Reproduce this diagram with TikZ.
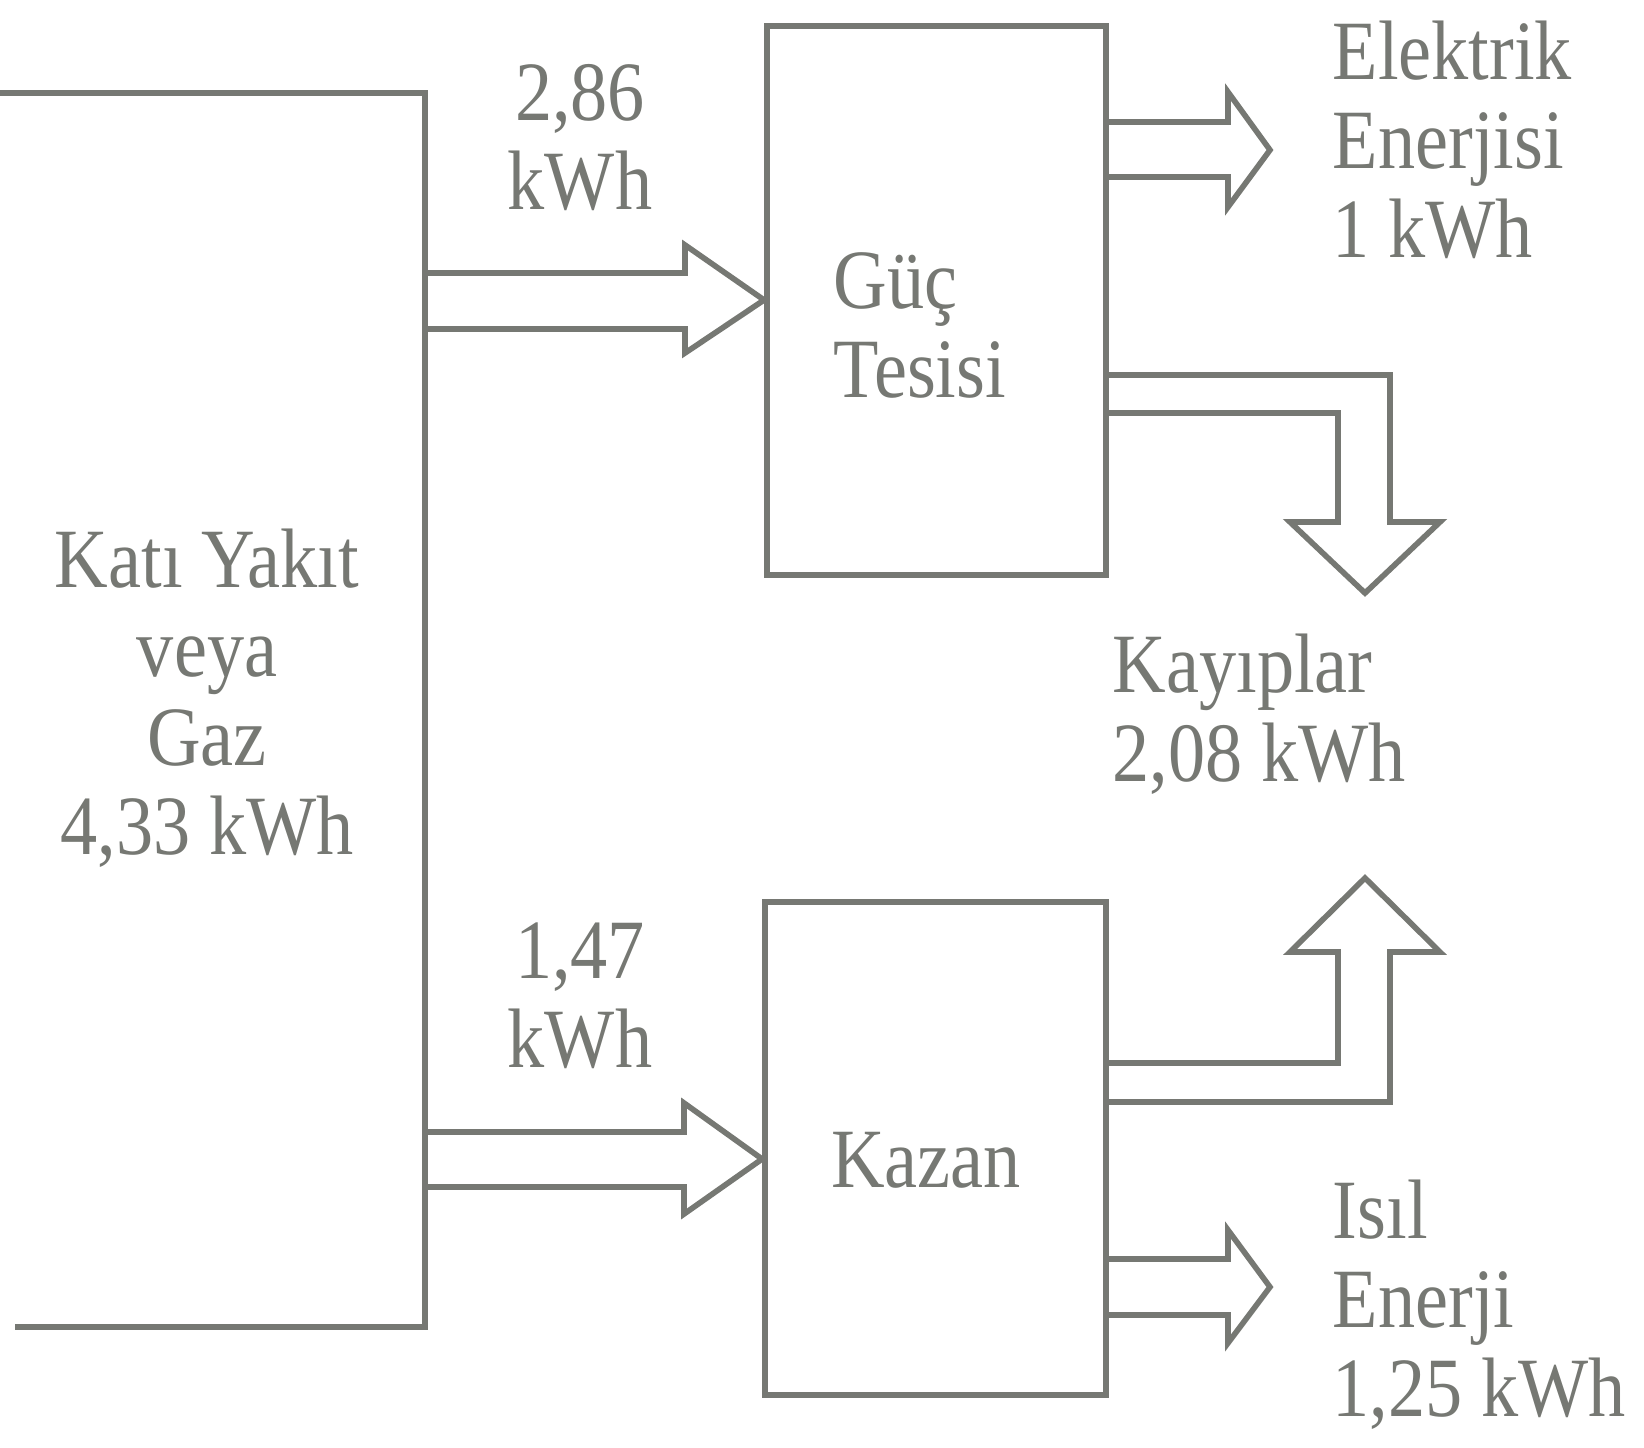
\documentclass[tikz,border=0pt]{standalone}
\usepackage{fontspec}
\setmainfont{Liberation Serif}[FakeStretch=0.88]
\usepackage{tikz}
\usetikzlibrary{positioning}
\definecolor{ink}{RGB}{118,120,115}

\begin{document}
\begin{tikzpicture}[x=0.01cm, y=-0.01cm, line width=1.6pt, draw=ink, line join=miter,
    box/.style={draw=ink, rectangle, inner sep=0pt},
    lbl/.style={text=ink, inner sep=0pt, font=\fontsize{24pt}{25.3pt}\selectfont}]
    \useasboundingbox (0,0) rectangle (1644,1447);

    % Left box (cut at the page edge)
    \draw (0,93) -- (425,93) -- (425,1327) -- (15,1327);
    \node[lbl, align=center] (src) at (207,698) {Katı Yakıt\\veya\\Gaz\\4,33 kWh};

    % Plant and boiler
    \node[box, minimum width=3.39cm, minimum height=5.49cm] (guc) at (936.5,300.5) {};
    \node[box, minimum width=3.41cm, minimum height=4.93cm] (kazan) at (935.5,1148.5) {};
    \node[lbl, align=left, anchor=west] (guclbl) at (831,325) {Güç\\Tesisi};
    \node[lbl] (kazanlbl) at (926,1160) {Kazan};

    % Inflow arrows
    \draw (425,273) -- (685,273) -- (685,245) -- (guc.west |- 0,300) -- (685,353) -- (685,329) -- (425,329);
    \draw (425,1132) -- (684,1132) -- (684,1103) -- (kazan.west |- 0,1159) -- (684,1214) -- (684,1187) -- (425,1187);
    \node[lbl, align=center] (in1) at (580,138) {2,86\\kWh};
    \node[lbl, align=center] (in2) at (580,996) {1,47\\kWh};

    % Outflow arrows
    \draw (guc.east |- 0,122) -- (1228,122) -- (1228,92) -- (1270,150) -- (1228,207) -- (1228,177) -- (guc.east |- 0,177);
    \draw (kazan.east |- 0,1259) -- (1228,1259) -- (1228,1230) -- (1270,1287) -- (1228,1343) -- (1228,1315) -- (kazan.east |- 0,1315);
    \node[lbl, align=left, anchor=west] (elk) at (1330,140) {Elektrik\\Enerjisi\\1 kWh};
    \node[lbl, align=left, anchor=west] (isil) at (1330,1305) {Isıl\\Enerji\\1,25 kWh};

    % Losses
    \draw (guc.east |- 0,375) -- (1390,375) -- (1390,522) -- (1440,522) -- (1365,593) -- (1290,522) -- (1338,522) -- (1338,413) -- (guc.east |- 0,413);
    \draw (kazan.east |- 0,1102) -- (1390,1102) -- (1390,952) -- (1440,952) -- (1365,878) -- (1290,952) -- (1338,952) -- (1338,1063) -- (kazan.east |- 0,1063);
    \node[lbl, align=left, anchor=west] (kayip) at (1110,714) {Kayıplar\\2,08 kWh};

\end{tikzpicture}
\end{document}
